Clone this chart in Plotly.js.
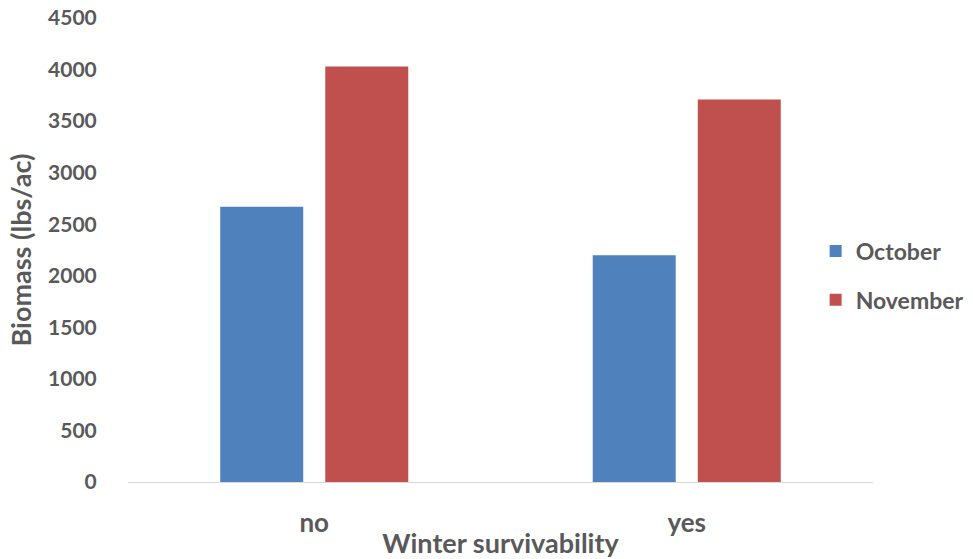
<!DOCTYPE html>
<html>
<head>
<meta charset="utf-8">
<script src="https://cdn.plot.ly/plotly-3.0.1.min.js"></script>
<style>html,body{margin:0;padding:0;background:#fff;}#chart{width:973px;height:559px;}</style>
</head>
<body>
<div id="chart"></div>
<script>
var categories = ["no", "yes"];
var seriesNames = ["October", "November"];
var octoberValues = [2670, 2200];
var novemberValues = [4030, 3710];
var yTickValues = [0, 500, 1000, 1500, 2000, 2500, 3000, 3500, 4000, 4500];

var fontFamily = "Lato, 'Open Sans', sans-serif";
var textColor = "#595959";

var traces = [
  {type: "bar", name: seriesNames[0], x: categories, y: octoberValues,
   marker: {color: "#4f81bd"}, legendgroup: "a", hoverinfo: "y"},
  {type: "bar", name: seriesNames[1], x: categories, y: novemberValues,
   marker: {color: "#c0504d"}, legendgroup: "b", hoverinfo: "y"}
];

var layout = {
  width: 973, height: 559,
  margin: {l: 128, r: 100, t: 18, b: 77, autoexpand: false},
  paper_bgcolor: "#fff", plot_bgcolor: "#fff",
  barmode: "group", bargap: 0.436, bargroupgap: 0.21,
  font: {family: fontFamily, color: textColor, size: 21},
  showlegend: true,
  legend: {x: 0.923, xanchor: "left", y: 0.445, yanchor: "middle", traceorder: "grouped",
           tracegroupgap: 16, bgcolor: "rgba(0,0,0,0)",
           font: {size: 23, color: textColor, family: fontFamily, weight: "bold"},
           itemwidth: 30},
  xaxis: {showline: true, linecolor: "#d9d9d9", linewidth: 1, showgrid: false, zeroline: false,
          ticks: "outside", ticklen: 18, tickcolor: "rgba(0,0,0,0)",
          tickfont: {size: 26, family: fontFamily, color: textColor, weight: "bold"},
          title: {text: "Winter survivability", standoff: 0,
                  font: {size: 27, family: fontFamily, color: textColor, weight: "bold"}}},
  yaxis: {range: [0, 4500], tickvals: yTickValues, showgrid: false, zeroline: false, showline: false,
          ticks: "outside", ticklen: 26, tickcolor: "rgba(0,0,0,0)",
          tickfont: {size: 21, family: fontFamily, color: textColor, weight: "bold"},
          title: {text: "Biomass (lbs/ac)", standoff: 8,
                  font: {size: 27, family: fontFamily, color: textColor, weight: "bold"}}}
};

Plotly.newPlot("chart", traces, layout, {displayModeBar: false, staticPlot: true});
</script>
</body>
</html>
